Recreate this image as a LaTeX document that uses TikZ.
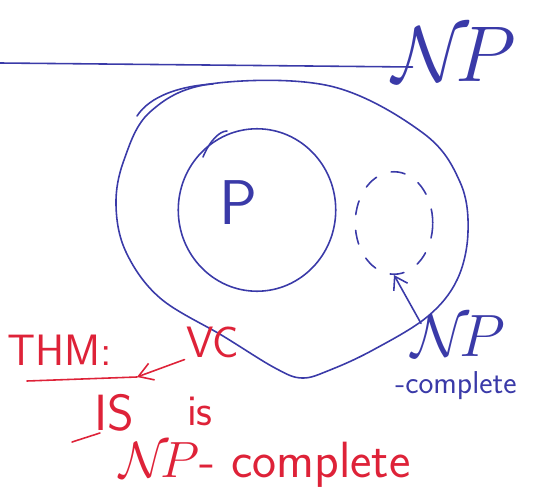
\RequirePackage{fix-cm}
\documentclass[tikz,border=0pt]{standalone}
\usepackage{amsmath,amssymb,xcolor}
\definecolor{penblue}{RGB}{58,58,168}
\definecolor{penred}{RGB}{222,34,56}
\usetikzlibrary{arrows.meta,positioning,shapes.geometric}

\begin{document}
\begin{tikzpicture}[x=0.02cm, y=-0.02cm,
  ink/.style={penblue, line width=0.9pt, line cap=round},
  redink/.style={penred, line width=0.9pt, line cap=round},
  bluetext/.style={penblue, font=\sffamily\fontsize{36}{38}\selectfont, inner sep=1pt},
  redtext/.style={penred, font=\sffamily\fontsize{25}{27}\selectfont, inner sep=1pt}]

\useasboundingbox (0,0) rectangle (549,494);

% class NP
\node[bluetext, font=\fontsize{45}{47}\selectfont, anchor=south west] (np) at (390,84) {$\mathcal{N}\!P$};
\coordinate (lineend) at (0,63);
\draw[ink] (lineend) -- ([xshift=0.45cm, yshift=0.34cm]np.south west);

\draw[ink] plot[smooth cycle, tension=0.6] coordinates {
  (210,84) (330,86) (423,133) (460,182) (468,232) (457,280) (427,317)
  (373,350) (330,370) (302,378) (275,368) (223,336) (160,298) (126,252)
  (116,205) (124,160) (150,112)};
\draw[ink] (137,116) .. controls (150,96) and (180,86) .. (213,84);

% class P
\node[ink, draw, ellipse, inner sep=0pt, minimum width=3.15cm,
  minimum height=3.25cm] (pcls) at (257,210) {};
\draw[ink] (203,157) .. controls (210,140) and (220,131) .. (227,131);
\node[bluetext] (plabel) at (238,203) {P};

% NP-complete
\node[ink, draw, dash pattern=on 8pt off 9pt, ellipse, minimum width=1.55cm,
  minimum height=2.05cm] (npc) at (394,223) {};
\node[bluetext, font=\fontsize{34}{36}\selectfont] (npcname) at (458,336) {$\mathcal{N}\!P$};
\node[bluetext, font=\sffamily\fontsize{18}{20}\selectfont] (npclabel) at (456,386) {-complete};
\draw[ink, -{Straight Barb[length=7pt, width=9pt]}] ([shift={(12,10)}]npcname.north west) -- (npc.south);

% theorem
\node[redtext] (thm) at (60,350) {THM:};
\coordinate (thmline) at (137,377);
\draw[redink] (27,381) -- (thmline);
\node[redtext] (vc) at (213,342) {VC};
\draw[redink, -{Straight Barb[length=8pt, width=10pt]}] (vc.south west) -- (thmline);
\node[redtext, font=\sffamily\fontsize{29}{30}\selectfont] (is) at (114,413) {IS};
\node[redtext] (isverb) at (200,411) {is};
\draw[redink] (72,442) -- (100,433);
\node[redtext, font=\sffamily\fontsize{29}{30}\selectfont] (npcthm) at (265,465) {$\mathcal{N}\!P$- complete};

\end{tikzpicture}
\end{document}
